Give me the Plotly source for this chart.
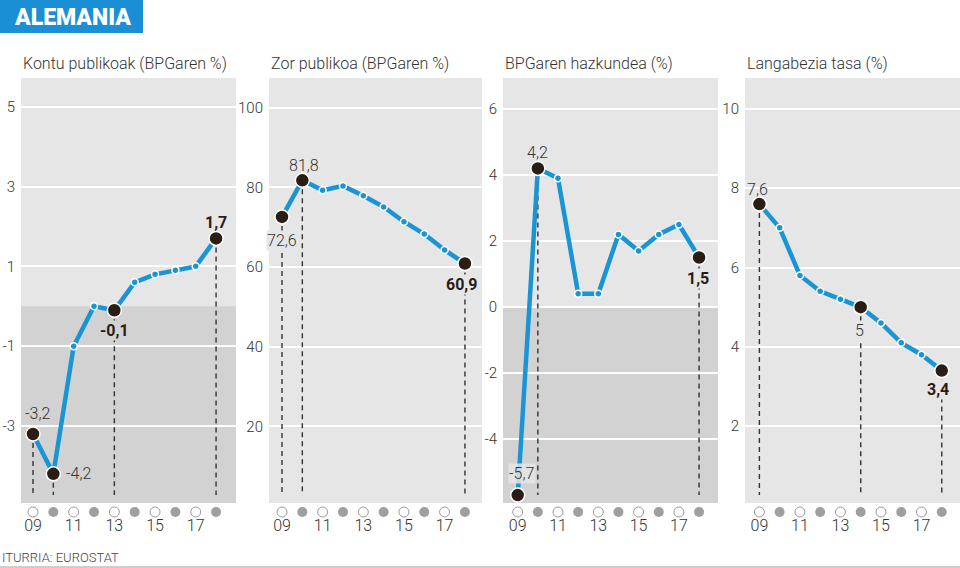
import plotly.graph_objects as go

W, H = 960, 568

# --- datuak ---------------------------------------------------------------
years = list(range(2009, 2019))
year_labels = ["09", "", "11", "", "13", "", "15", "", "17", ""]

kontu_publikoak = [-3.2, -4.2, -1.0, 0.0, -0.1, 0.6, 0.8, 0.9, 1.0, 1.7]
zor_publikoa = [72.6, 81.8, 79.3, 80.4, 77.9, 75.1, 71.4, 68.3, 64.3, 60.9]
bpg_hazkundea = [-5.7, 4.2, 3.9, 0.4, 0.4, 2.2, 1.7, 2.2, 2.5, 1.5]
langabezia = [7.6, 7.0, 5.8, 5.4, 5.2, 5.0, 4.6, 4.1, 3.8, 3.4]

titles = [
    "Kontu publikoak (BPGaren %)",
    "Zor publikoa (BPGaren %)",
    "BPGaren hazkundea (%)",
    "Langabezia tasa (%)",
]
series = [kontu_publikoak, zor_publikoa, bpg_hazkundea, langabezia]
highlight_years = [[2009, 2010, 2013, 2018], [2009, 2010, 2018],
                   [2009, 2010, 2018], [2009, 2014, 2018]]
highlight_bold = [[False, False, True, True], [False, False, True],
                  [False, False, True], [False, False, True]]
y_ticks = [[-3, -1, 1, 3, 5], [20, 40, 60, 80, 100],
           [-4, -2, 0, 2, 4, 6], [2, 4, 6, 8, 10]]

# --- itxura ---------------------------------------------------------------
BLUE = "#1a95d4"
DARK = "#2a1d15"
BG = "#e6e6e6"
BG_NEG = "#d2d2d2"
HALO = "rgba(230,230,230,0.85)"
TXT = "#333333"
FONT = "Roboto"
LIGHT = 300

panel_px = [(21, 236), (269, 482), (503, 718), (745, 960)]
x_ranges = [(2008.41, 2018.98), (2008.36, 2018.84), (2008.27, 2018.94), (2008.29, 2018.9)]
y_ranges = [(-4.93, 5.72), (0.75, 107.5), (-5.94, 6.94), (0.06, 10.78)]
shade_negative = [True, False, True, False]
# (xshift, yshift, xanchor, atzeko kolorea) etiketa bakoitzeko
label_pos = [
    [(5, 20, "center", None), (12, 0, "left", None),
     (0, -20, "center", BG_NEG), (0, 16, "center", None)],
    [(0, -24, "center", BG), (2, 15, "center", None), (-3, -21, "center", BG)],
    [(4, 22, "center", HALO), (0, 16, "center", None), (-1, -21, "center", BG)],
    [(-2, 15, "center", None), (-1, -23, "center", BG), (-4, -19, "center", BG)],
]

PLOT_TOP, PLOT_BOT = 78, 503
STRIP_TOP, STRIP_BOT = 504, 520


def py(px):
    return 1 - px / H


def ax_id(n):
    return "" if n == 1 else str(n)


fig = go.Figure()
layout = {}
shapes = []
annotations = []

for i in range(4):
    m, s = ax_id(2 * i + 1), ax_id(2 * i + 2)
    xa, ya = f"x{m}", f"y{m}"
    xs, ys = f"x{s}", f"y{s}"
    x0, x1 = panel_px[i]
    dom = [x0 / W, x1 / W]
    lo, hi = y_ranges[i]
    vals = series[i]

    layout[f"xaxis{m}"] = dict(domain=dom, range=list(x_ranges[i]), anchor=ya,
                               showgrid=False, zeroline=False, showticklabels=False,
                               fixedrange=True)
    layout[f"yaxis{m}"] = dict(domain=[py(PLOT_BOT), py(PLOT_TOP)], range=[lo, hi],
                               anchor=xa, tickvals=y_ticks[i],
                               ticktext=[str(t) for t in y_ticks[i]], showgrid=True,
                               gridcolor="white", gridwidth=2, zeroline=False,
                               ticks="", ticklabelstandoff=5,
                               tickfont=dict(family=FONT, size=15, color=TXT,
                                             weight=LIGHT))
    layout[f"xaxis{s}"] = dict(domain=dom, range=list(x_ranges[i]), anchor=ys,
                               visible=False)
    layout[f"yaxis{s}"] = dict(domain=[py(STRIP_BOT), py(STRIP_TOP)], range=[0, 1],
                               anchor=xs, visible=False)

    # atzeko planoa
    shapes.append(dict(type="rect", xref=f"{xa} domain", yref=f"{ya} domain",
                       x0=0, x1=1, y0=0, y1=1, fillcolor=BG, line_width=0,
                       layer="below"))
    if shade_negative[i]:
        shapes.append(dict(type="rect", xref=f"{xa} domain", yref=ya,
                           x0=0, x1=1, y0=lo, y1=0, fillcolor=BG_NEG, line_width=0,
                           layer="below"))

    # lerro etenak
    foot = lo + (hi - lo) * 8 / (PLOT_BOT - PLOT_TOP)
    for yr in highlight_years[i]:
        v = vals[years.index(yr)]
        fig.add_trace(go.Scatter(x=[yr, yr], y=[v, foot], mode="lines",
                                 line=dict(color=TXT, width=1.4, dash="5px,4px"),
                                 xaxis=xa, yaxis=ya, hoverinfo="skip",
                                 showlegend=False))

    fig.add_trace(go.Scatter(
        x=years, y=vals, mode="lines+markers", xaxis=xa, yaxis=ya,
        line=dict(color=BLUE, width=4.5),
        marker=dict(size=7, color=BLUE, line=dict(color="white", width=1.5)),
        showlegend=False, cliponaxis=False))

    hv = [vals[years.index(yr)] for yr in highlight_years[i]]
    fig.add_trace(go.Scatter(
        x=highlight_years[i], y=hv, mode="markers", xaxis=xa, yaxis=ya,
        marker=dict(size=14, color=DARK, line=dict(color="white", width=1.5)),
        showlegend=False, cliponaxis=False))

    for yr, v, bold, (xsft, ysft, anc, bg) in zip(highlight_years[i], hv,
                                                   highlight_bold[i], label_pos[i]):
        annotations.append(dict(
            x=yr, y=v, xref=xa, yref=ya, showarrow=False,
            text=f"{v:g}".replace(".", ","), xshift=xsft, yshift=ysft,
            xanchor=anc, yanchor="middle",
            font=dict(family=FONT, size=16, color=DARK if bold else TXT,
                      weight="bold" if bold else LIGHT),
            bgcolor=bg, borderpad=0))

    # urteen zerrenda
    odd = [k for k, y in enumerate(years) if y % 2 == 1]
    even = [k for k, y in enumerate(years) if y % 2 == 0]
    fig.add_trace(go.Scatter(
        x=[years[k] for k in odd], y=[0.5] * len(odd), mode="markers+text",
        text=[year_labels[k] for k in odd], textposition="bottom center",
        textfont=dict(family=FONT, size=16, color=TXT, weight=LIGHT),
        marker=dict(size=10, color="white", line=dict(color="#9a9a9a", width=1)),
        xaxis=xs, yaxis=ys, showlegend=False, cliponaxis=False))
    fig.add_trace(go.Scatter(
        x=[years[k] for k in even], y=[0.5] * len(even), mode="markers",
        marker=dict(size=10, color="#9f9f9f", line=dict(width=0)),
        xaxis=xs, yaxis=ys, showlegend=False, cliponaxis=False))

    annotations.append(dict(
        x=x0 / W, y=py(63), xref="paper", yref="paper", showarrow=False,
        xanchor="left", yanchor="middle", text=titles[i],
        font=dict(family=FONT, size=16, color=TXT, weight=LIGHT)))

# goiburua eta iturria
shapes.append(dict(type="rect", xref="paper", yref="paper", x0=0, x1=143 / W,
                   y0=py(33), y1=1, fillcolor="#1b8fd6", line_width=0))
annotations.append(dict(x=72 / W, y=py(17), xref="paper", yref="paper",
                        xanchor="center", yanchor="middle",
                        showarrow=False, text="ALEMANIA",
                        font=dict(family=FONT, size=23, color="white", weight=900)))
annotations.append(dict(x=0, y=py(557), xref="paper", yref="paper", showarrow=False,
                        xanchor="left", yanchor="middle", text="ITURRIA: EUROSTAT",
                        font=dict(family=FONT, size=13, color="#444444",
                                  weight=LIGHT)))
shapes.append(dict(type="line", xref="paper", yref="paper", x0=0, x1=1,
                   y0=py(567), y1=py(567), line=dict(color="#9a9a9a", width=1)))

fig.update_layout(
    width=W, height=H, margin=dict(l=0, r=0, t=0, b=0),
    paper_bgcolor="white", plot_bgcolor="rgba(0,0,0,0)",
    shapes=shapes, annotations=annotations, **layout)

fig.write_html("out.html", config={"displayModeBar": False},
               post_script="document.body.style.margin = '0';")
